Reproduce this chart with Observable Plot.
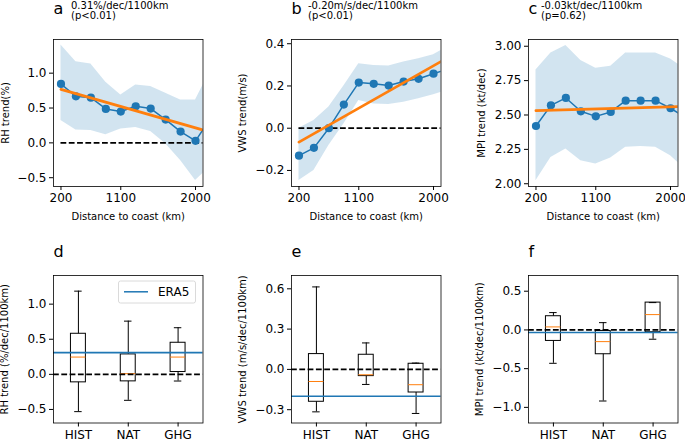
<!DOCTYPE html>
<html><head><meta charset="utf-8">
<script src="https://cdn.jsdelivr.net/npm/d3@7"></script>
<script src="https://cdn.jsdelivr.net/npm/@observablehq/plot@0.6"></script>
<style>
body{margin:0;background:#fff;}
#fig{position:relative;width:685px;height:441px;overflow:hidden;font-family:"DejaVu Sans",sans-serif;background:#fff;}
.p{position:absolute;}
#fig svg [aria-label="y-axis label"], #fig svg [aria-label="x-axis label"]{font-size:10px;}
#overlay{position:absolute;left:0;top:0;pointer-events:none;}
</style></head><body><div id="fig"></div>
<script>
// ---------- data ----------
const distIdx = [0,1,2,3,4,5,6,7,8,9,10];
const xTickPos = [0,4,9];
const xTickLabels = ["200","1100","2000"];
const fitIdx = [0,10];

const rhMean = [0.845,0.668,0.649,0.487,0.449,0.525,0.492,0.334,0.162,0.029,0.35];
const rhLo   = [0.32,0.186,0.177,0.115,0.20,0.22,0.162,-0.014,-0.253,-0.539,-0.34];
const rhHi   = [1.403,1.165,1.131,0.869,0.687,0.83,0.807,0.711,0.616,0.616,1.04];
const rhFit  = [0.768,0.155];

const vwsMean = [-0.130,-0.093,0.0,0.112,0.216,0.210,0.202,0.221,0.234,0.258,0.282];
const vwsLo   = [-0.248,-0.200,-0.082,0.02,0.131,0.115,0.112,0.123,0.139,0.158,0.182];
const vwsHi   = [0.0,0.036,0.10,0.20,0.305,0.297,0.294,0.313,0.329,0.348,0.388];
const vwsFit  = [-0.066,0.336];

const mpiMean = [2.42,2.57,2.624,2.527,2.49,2.522,2.604,2.604,2.604,2.549,2.481];
const mpiLo   = [2.022,2.19,2.252,2.167,2.143,2.187,2.265,2.27,2.265,2.204,2.106];
const mpiHi   = [2.828,2.95,3.005,2.896,2.84,2.854,2.95,2.951,2.951,2.908,2.832];
const mpiFit  = [2.532,2.5625];

const cats = ["HIST","NAT","GHG"];
// box stats: [lowerWhisker, Q1, median, Q3, upperWhisker]
const rhBox  = [[-0.531,-0.114,0.246,0.578,1.185],[-0.37,-0.10,0.01,0.284,0.758],[-0.095,0.033,0.246,0.45,0.664]];
const vwsBox = [[-0.316,-0.241,-0.09,0.114,0.614],[-0.112,-0.05,-0.04,0.109,0.197],[-0.328,-0.172,-0.114,0.042,0.047]];
const mpiBox = [[-0.431,-0.142,0.039,0.177,0.224],[-0.918,-0.314,-0.151,-0.013,0.094],[-0.12,-0.03,0.198,0.353,0.353]];
const rhEra5 = 0.31, vwsEra5 = -0.20, mpiEra5 = -0.034;

const titles = [
  {letter:"a", line1:"0.31%/dec/1100km", line2:"(p<0.01)"},
  {letter:"b", line1:"-0.20m/s/dec/1100km", line2:"(p<0.01)"},
  {letter:"c", line1:"-0.03kt/dec/1100km", line2:"(p=0.62)"},
  {letter:"d"},{letter:"e"},{letter:"f"}
];

// ---------- layout ----------
const BLUE="#1f77b4", ORANGE="#ff7f0e";
const FW=149.5;
const ML=60, MR=10, MT=6, MB=44;
const fig = document.getElementById("fig");
const baseStyle = {fontFamily:"DejaVu Sans", fontSize:"12px", background:"none", overflow:"visible", maxWidth:"none", color:"black"};
const DASH = "5.8,2.5";

function place(svg, left, top){
  const d=document.createElement("div"); d.className="p";
  d.style.left=(left-ML)+"px"; d.style.top=(top-MT)+"px";
  d.appendChild(svg); fig.appendChild(d);
}

function linePanel(o){
  const data = distIdx.map((x,k)=>({x, y:o.mean[k], lo:o.lo[k], hi:o.hi[k]}));
  const fit = fitIdx.map((x,k)=>({x, y:o.fit[k]}));
  const svg = Plot.plot({
    width: ML+FW+MR, height: MT+o.h+MB,
    marginLeft:ML, marginRight:MR, marginTop:MT, marginBottom:MB,
    style: baseStyle,
    x:{domain:[-0.5,9.5]},
    y:{domain:o.yDomain},
    marks:[
      Plot.areaY(data,{x:"x",y1:"lo",y2:"hi",fill:BLUE,fillOpacity:0.2,clip:true}),
      Plot.ruleY([0],{x1:distIdx[0],x2:distIdx[distIdx.length-1],stroke:"black",strokeWidth:1.7,strokeDasharray:DASH,clip:true}),
      Plot.line(data,{x:"x",y:"y",stroke:BLUE,strokeWidth:1.5,clip:true}),
      Plot.dot(data,{x:"x",y:"y",r:4.1,fill:BLUE,clip:true}),
      Plot.line(fit,{x:"x",y:"y",stroke:ORANGE,strokeWidth:2.8,clip:true}),
      Plot.frame({stroke:"black",strokeWidth:0.8}),
      Plot.axisX({ticks:xTickPos,tickFormat:d=>xTickLabels[xTickPos.indexOf(d)],tickSize:4,tickPadding:3,
        label:"Distance to coast (km)",labelAnchor:"center",labelArrow:"none",labelOffset:33}),
      Plot.axisY({ticks:o.yTicks,tickFormat:d3.format(o.fmt),tickSize:4,tickPadding:3,
        label:o.ylabel,labelAnchor:"center",labelArrow:"none",labelOffset:o.labelOffset})
    ]
  });
  place(svg,o.left,o.top);
}

function boxPanel(o){
  const data = cats.map((c,i)=>({pos:i+1, lo:o.box[i][0], q1:o.box[i][1], med:o.box[i][2], q3:o.box[i][3], hi:o.box[i][4]}));
  const hw=0.15, cw=0.075;
  const svg = Plot.plot({
    width: ML+FW+MR, height: MT+o.h+MB,
    marginLeft:ML, marginRight:MR, marginTop:MT, marginBottom:MB,
    style: baseStyle,
    x:{domain:[0.5,3.5]},
    y:{domain:o.yDomain},
    marks:[
      Plot.ruleX(data,{x:"pos",y1:"q3",y2:"hi",stroke:"black",strokeWidth:1}),
      Plot.ruleX(data,{x:"pos",y1:"lo",y2:"q1",stroke:"black",strokeWidth:1}),
      Plot.ruleY(data,{y:"hi",x1:d=>d.pos-cw,x2:d=>d.pos+cw,stroke:"black",strokeWidth:1}),
      Plot.ruleY(data,{y:"lo",x1:d=>d.pos-cw,x2:d=>d.pos+cw,stroke:"black",strokeWidth:1}),
      Plot.rect(data,{x1:d=>d.pos-hw,x2:d=>d.pos+hw,y1:"q1",y2:"q3",fill:"none",stroke:"black",strokeWidth:1}),
      Plot.ruleY(data,{y:"med",x1:d=>d.pos-hw,x2:d=>d.pos+hw,stroke:ORANGE,strokeWidth:1}),
      Plot.ruleY([0],{stroke:"black",strokeWidth:1.7,strokeDasharray:DASH}),
      Plot.ruleY([o.era5],{stroke:BLUE,strokeWidth:1.6}),
      Plot.frame({stroke:"black",strokeWidth:0.8}),
      Plot.axisX({ticks:[1,2,3],tickFormat:d=>cats[d-1],tickSize:4,tickPadding:3,label:null}),
      Plot.axisY({ticks:o.yTicks,tickFormat:d3.format(o.fmt),tickSize:4,tickPadding:3,
        label:o.ylabel,labelAnchor:"center",labelArrow:"none",labelOffset:o.labelOffset})
    ]
  });
  place(svg,o.left,o.top);
}

const col=[53,291.3,528.3];
const rowTop=[39,274.8];

linePanel({mean:rhMean,lo:rhLo,hi:rhHi,fit:rhFit,yDomain:[-0.626,1.483],yTicks:[-0.5,0,0.5,1.0],fmt:".1f",
  ylabel:"RH trend(%)",labelOffset:52,left:col[0],top:rowTop[0],h:147});
linePanel({mean:vwsMean,lo:vwsLo,hi:vwsHi,fit:vwsFit,yDomain:[-0.276,0.42],yTicks:[-0.2,0,0.2,0.4],fmt:".1f",
  ylabel:"VWS trend(m/s)",labelOffset:53,left:col[1],top:rowTop[0],h:147});
linePanel({mean:mpiMean,lo:mpiLo,hi:mpiHi,fit:mpiFit,yDomain:[1.98,3.049],yTicks:[2.0,2.25,2.5,2.75,3.0],fmt:".2f",
  ylabel:"MPI trend (kt/dec)",labelOffset:51,left:col[2],top:rowTop[0],h:147});

boxPanel({box:rhBox,era5:rhEra5,yDomain:[-0.693,1.408],yTicks:[-0.5,0,0.5,1.0],fmt:".1f",
  ylabel:"RH trend (%/dec/1100km)",labelOffset:53,left:col[0],top:rowTop[1],h:147.5});
boxPanel({box:vwsBox,era5:vwsEra5,yDomain:[-0.399,0.699],yTicks:[-0.3,0,0.3,0.6],fmt:".1f",
  ylabel:"VWS trend (m/s/dec/1100km)",labelOffset:53,left:col[1],top:rowTop[1],h:147.5});
boxPanel({box:mpiBox,era5:mpiEra5,yDomain:[-1.202,0.703],yTicks:[-1.0,-0.5,0,0.5],fmt:".1f",
  ylabel:"MPI trend (kt/dec/1100km)",labelOffset:53,left:col[2],top:rowTop[1],h:147.5});

// ---------- titles & legend overlay ----------
const ns="http://www.w3.org/2000/svg";
const ov=document.createElementNS(ns,"svg");
ov.setAttribute("id","overlay"); ov.setAttribute("width",685); ov.setAttribute("height",441);
ov.setAttribute("font-family","DejaVu Sans");
function txt(x,y,s,size){const t=document.createElementNS(ns,"text");t.setAttribute("x",x);t.setAttribute("y",y);t.setAttribute("font-size",size);t.textContent=s;ov.appendChild(t);return t;}
const letterX=[53.5,291.5,528.5], subX=[71,308,541];
titles.forEach((t,i)=>{
  const c=i%3, r=Math.floor(i/3);
  txt(letterX[c], r===0?14:257, t.letter, 16);
  if(t.line1){ txt(subX[c],9,t.line1,10); txt(subX[c],18.8,t.line2,10); }
});
// legend in panel d
const lg=document.createElementNS(ns,"rect");
lg.setAttribute("x",118.5);lg.setAttribute("y",281);lg.setAttribute("width",77);lg.setAttribute("height",22);
lg.setAttribute("rx",2);lg.setAttribute("fill","white");lg.setAttribute("fill-opacity",0.8);lg.setAttribute("stroke","#d0d0d0");lg.setAttribute("stroke-width",0.8);
ov.appendChild(lg);
const ll=document.createElementNS(ns,"line");
ll.setAttribute("x1",124);ll.setAttribute("x2",148);ll.setAttribute("y1",291.8);ll.setAttribute("y2",291.8);
ll.setAttribute("stroke",BLUE);ll.setAttribute("stroke-width",1.5);ov.appendChild(ll);
txt(158,296,"ERA5",12);
fig.appendChild(ov);
</script></body></html>
